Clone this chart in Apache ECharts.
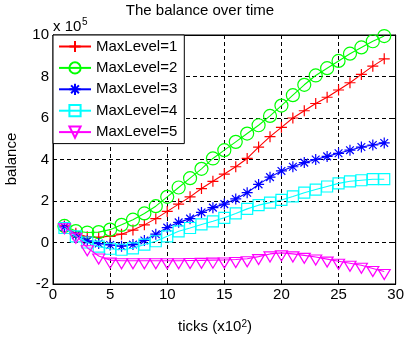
<!DOCTYPE html>
<html>
<head>
<meta charset="utf-8">
<script src="https://cdn.jsdelivr.net/npm/echarts@6/dist/echarts.min.js"></script>
<style>
html,body{margin:0;padding:0;background:#fff;}
#c{width:407px;height:339px;}
</style>
</head>
<body>
<div id="c"></div>
<script>
// ---- data (balance in units of 1e5, ticks in units of 1e2) ----
const ticks = [1,2,3,4,5,6,7,8,9,10,11,12,13,14,15,16,17,18,19,20,21,22,23,24,25,26,27,28,29];
const seriesNames = ['MaxLevel=1','MaxLevel=2','MaxLevel=3','MaxLevel=4','MaxLevel=5'];
const level1 = [0.8,0.45,0.28,0.25,0.3,0.4,0.6,0.85,1.15,1.5,1.85,2.2,2.6,2.95,3.3,3.65,4.05,4.6,5.1,5.55,6.0,6.35,6.7,7.0,7.35,7.7,8.1,8.5,8.85];
const level2 = [0.8,0.55,0.48,0.5,0.62,0.85,1.1,1.4,1.75,2.2,2.65,3.1,3.55,4.05,4.45,4.85,5.25,5.65,6.1,6.6,7.1,7.6,8.05,8.4,8.75,9.1,9.4,9.7,9.95];
const level3 = [0.75,0.35,0.08,-0.05,-0.12,-0.18,-0.1,0.1,0.4,0.72,0.97,1.15,1.45,1.68,1.85,2.1,2.4,2.8,3.15,3.45,3.65,3.85,4.0,4.15,4.3,4.45,4.6,4.7,4.8];
const level4 = [0.7,0.3,0.0,-0.2,-0.3,-0.35,-0.28,-0.1,0.06,0.3,0.54,0.7,0.87,1.02,1.19,1.4,1.62,1.8,1.92,2.05,2.22,2.4,2.55,2.7,2.85,2.95,3.0,3.05,3.05];
const level5 = [0.8,0.35,-0.25,-0.65,-0.85,-0.88,-0.88,-0.88,-0.88,-0.88,-0.88,-0.87,-0.86,-0.85,-0.84,-0.82,-0.78,-0.68,-0.55,-0.5,-0.55,-0.62,-0.7,-0.8,-0.9,-1.0,-1.1,-1.25,-1.4];
const xTicks = [0,5,10,15,20,25,30];
const yTicks = [-2,0,2,4,6,8,10];

const FONT = '"Liberation Sans", Arial, sans-serif';
const colors = ['#ff0000','#00ff00','#0000ff','#00ffff','#ff00ff'];
const symbols = [
  'path://M0,5L10,5M5,0L5,10',
  'circle',
  'path://M0,5L10,5M5,0L5,10M1.5,1.5L8.5,8.5M1.5,8.5L8.5,1.5',
  'path://M0,0L10,0L10,10L0,10Z',
  'path://M0,0L10,0L5,8.66Z'
];
const sizes = [11, 13, 11, 11, [12,10]];
const offsets = [[0,0],[0,0],[0,0],[0,0],[0,3]];
const allData = [level1, level2, level3, level4, level5];

const series = allData.map((vals, i) => ({
  name: seriesNames[i],
  type: 'line',
  data: ticks.map((t, k) => [t, vals[k]]),
  symbol: symbols[i],
  symbolSize: sizes[i],
  symbolOffset: offsets[i],
  showSymbol: true,
  lineStyle: {color: colors[i], width: 1.1},
  itemStyle: {color: 'transparent', borderColor: colors[i], borderWidth: 1.2},
  emphasis: {disabled: true},
  z: 3 + i
}));

const chart = echarts.init(document.getElementById('c'), null, {renderer: 'canvas'});
chart.setOption({
  animation: false,
  backgroundColor: '#fff',
  grid: {left: 53, top: 35, right: 7, bottom: 55, show: true, borderColor: '#000', borderWidth: 1, backgroundColor: 'transparent'},
  xAxis: [{
    type: 'value', min: xTicks[0], max: xTicks[xTicks.length-1], interval: 5, position: 'bottom',
    axisLine: {show: true, onZero: false, lineStyle: {color: '#000', width: 1}},
    axisTick: {show: true, inside: true, length: 4, lineStyle: {color: '#000'}},
    axisLabel: {color: '#000', fontSize: 15, fontFamily: FONT, margin: 3},
    splitLine: {show: true, lineStyle: {color: '#000', type: [4,3], width: 1}}
  }, {
    type: 'value', min: xTicks[0], max: xTicks[xTicks.length-1], interval: 5, position: 'top',
    axisLine: {show: true, onZero: false, lineStyle: {color: '#000'}},
    axisTick: {show: true, inside: true, length: 4, lineStyle: {color: '#000'}},
    axisLabel: {show: false}, splitLine: {show: false}
  }],
  yAxis: [{
    type: 'value', min: yTicks[0], max: yTicks[yTicks.length-1], interval: 2, position: 'left',
    axisLine: {show: true, onZero: false, lineStyle: {color: '#000', width: 1}},
    axisTick: {show: true, inside: true, length: 4, lineStyle: {color: '#000'}},
    axisLabel: {color: '#000', fontSize: 15, fontFamily: FONT, margin: 4},
    splitLine: {show: true, lineStyle: {color: '#000', type: [4,3], width: 1}}
  }, {
    type: 'value', min: yTicks[0], max: yTicks[yTicks.length-1], interval: 2, position: 'right',
    axisLine: {show: true, onZero: false, lineStyle: {color: '#000'}},
    axisTick: {show: true, inside: true, length: 4, lineStyle: {color: '#000'}},
    axisLabel: {show: false}, splitLine: {show: false}
  }],
  legend: {
    show: true, orient: 'vertical', left: 53, top: 35,
    data: seriesNames,
    itemWidth: 32, itemHeight: 14, itemGap: 6.4,
    padding: [4, 7, 4, 5],
    backgroundColor: '#fff', borderColor: '#000', borderWidth: 1,
    textStyle: {color: '#000', fontSize: 15, fontFamily: FONT},
    selectedMode: false, z: 20
  },
  graphic: [
    {type: 'text', x: 200, y: 11, z: 30, style: {text: 'The balance over time', fill: '#000', fontSize: 15, fontFamily: FONT, align: 'center', verticalAlign: 'middle'}},
    {type: 'text', x: 53, y: 27, z: 30, style: {text: 'x 10', fill: '#000', fontSize: 15, fontFamily: FONT, align: 'left', verticalAlign: 'middle'}},
    {type: 'text', x: 82, y: 22, z: 30, style: {text: '5', fill: '#000', fontSize: 10, fontFamily: FONT, align: 'left', verticalAlign: 'middle'}},
    {type: 'text', x: 12, y: 159, rotation: Math.PI/2, z: 30, style: {text: 'balance', fill: '#000', fontSize: 15, fontFamily: FONT, align: 'center', verticalAlign: 'middle'}},
    {type: 'text', x: 215, y: 327, z: 30, style: {text: 'ticks (x10{s|2})', fill: '#000', fontSize: 15, fontFamily: FONT, align: 'center', verticalAlign: 'middle',
      rich: {s: {fontSize: 10, fontFamily: FONT, fill: '#000', verticalAlign: 'top', padding: [0,0,0,0]}}}}
  ],
  series: series
});
</script>
</body>
</html>
